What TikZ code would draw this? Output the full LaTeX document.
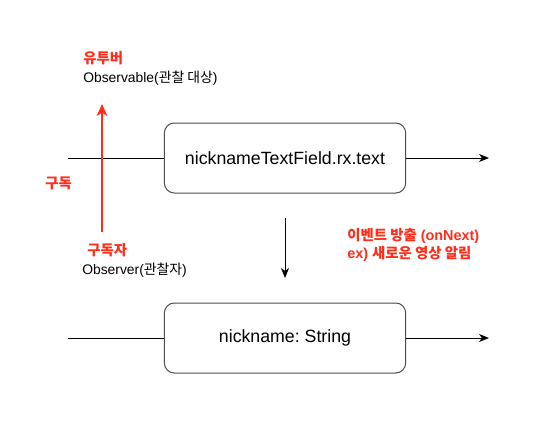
\documentclass[tikz,border=0pt]{standalone}
\usepackage{fontspec}
\setmainfont{Liberation Sans}
\newfontfamily\kr{Noto Sans CJK KR}
\usetikzlibrary{arrows.meta}
\definecolor{subred}{RGB}{255,45,25}
\frenchspacing
\begin{document}
\begin{tikzpicture}[x=0.75pt,y=-0.75pt,
    streambox/.style={draw=black!70,line width=0.75pt,rounded corners=7.5pt,
        minimum width=181pt,minimum height=52.5pt,font=\fontsize{13.3}{16}\selectfont},
    flow/.style={line width=0.75pt,-{Stealth[length=7.5pt,width=6pt,inset=2.2pt]}},
    note/.style={anchor=west,inner sep=0pt,font=\fontsize{10.4}{12}\selectfont},
    rednote/.style={note,text=subred,font=\fontsize{10.8}{12}\selectfont\bfseries}]
    \useasboundingbox (0,0) rectangle (560,436);

    % observable stream
    \node[streambox] (field) at (285,158) {nicknameTextField.rx.text};
    \coordinate (fieldin) at (68,158);
    \coordinate (fieldout) at (489,158);
    \draw[line width=0.75pt] (fieldin) -- (field.west);
    \draw[flow] (field.east) -- (fieldout);

    % bound property
    \node[streambox] (nick) at (285,338) {nickname: String};
    \coordinate (nickin) at (68,338);
    \coordinate (nickout) at (489,338);
    \draw[line width=0.75pt] (nickin) -- (nick.west);
    \draw[flow] (nick.east) -- (nickout);

    % onNext
    \coordinate (emittop) at (285,218);
    \coordinate (emitbot) at (285,278);
    \draw[flow] (emittop) -- (emitbot);
    \node[rednote] (emit) at (347,236) {{\kr 이벤트 방출} (onNext)};
    \node[rednote] (example) at (347,254) {ex) {\kr 새로운 영상 알림}};

    % subscribe
    \coordinate (subbot) at (102,232);
    \coordinate (subtop) at (102,104);
    \draw[subred,line width=1.5pt,-{Stealth[length=9pt,width=8pt,inset=2.5pt]}] (subbot) -- (subtop);
    \node[rednote] (youtuber) at (83,58) {\kr 유투버};
    \node[note] (observable) at (83,78) {Observable({\kr 관찰 대상})};
    \node[rednote] (subscribe) at (45,183) {\kr 구독};
    \node[rednote] (subscriber) at (87,250) {\kr 구독자};
    \node[note] (observer) at (82,270) {Observer({\kr 관찰자})};
\end{tikzpicture}
\end{document}
